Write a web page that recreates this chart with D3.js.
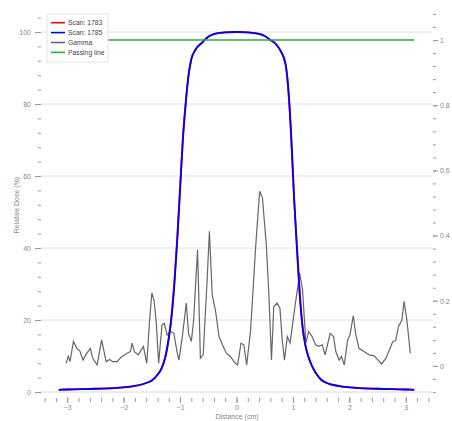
<!DOCTYPE html>
<html><head><meta charset="utf-8">
<script src="https://cdn.jsdelivr.net/npm/d3@7"></script>
<style>body{margin:0;background:#fff;font-family:"Liberation Sans",Arial,sans-serif}</style>
</head><body><svg id="c" width="452" height="421"></svg>
<script>
// Profile positions (cm) and relative dose (%)
const profileX = [-3.15,-3.0,-2.5,-2.0,-1.8,-1.6,-1.5,-1.4,-1.33,-1.26,-1.2,-1.15,-1.1,-1.05,-1.0,-0.95,-0.9,-0.85,-0.8,-0.73,-0.6,-0.5,-0.35,-0.2,0,0.2,0.35,0.5,0.6,0.7,0.78,0.87,0.93,0.98,1.02,1.07,1.12,1.17,1.22,1.27,1.33,1.4,1.5,1.6,1.8,2.0,2.5,3.0,3.15];
const scan1783 = [0.6,0.7,0.9,1.3,1.7,2.5,3.2,4.8,6.5,9.8,15,21.5,31,43,57,71,80.5,88,92.5,95,97.2,98.7,99.6,99.9,100,99.9,99.6,98.9,97.8,96.6,94.8,91,81,67,54,41,28,18.5,13,10,7.5,5.4,3.4,2.5,1.7,1.3,0.9,0.7,0.6];
const scan1785 = [0.6,0.7,0.9,1.3,1.7,2.5,3.2,4.8,6.5,9.8,15,21,30,42,56,70,80,88,92.5,95,97.2,98.7,99.6,99.9,100,99.9,99.6,98.9,97.8,96.6,94.8,91,82,68,54,40,27,18,13,10,7.5,5.4,3.4,2.5,1.7,1.3,0.9,0.7,0.6];
// Gamma index
const gammaX = [-3.02,-2.98,-2.95,-2.89,-2.83,-2.78,-2.72,-2.66,-2.59,-2.55,-2.47,-2.39,-2.31,-2.25,-2.19,-2.12,-2.03,-1.94,-1.88,-1.85,-1.81,-1.74,-1.65,-1.59,-1.54,-1.5,-1.46,-1.42,-1.38,-1.32,-1.28,-1.23,-1.17,-1.11,-1.05,-1.02,-0.96,-0.89,-0.85,-0.8,-0.76,-0.69,-0.64,-0.59,-0.52,-0.48,-0.43,-0.37,-0.31,-0.25,-0.18,-0.11,-0.02,0.02,0.08,0.13,0.18,0.25,0.34,0.41,0.46,0.53,0.57,0.62,0.66,0.72,0.77,0.81,0.85,0.9,0.95,1.02,1.12,1.17,1.23,1.28,1.34,1.4,1.46,1.52,1.57,1.66,1.72,1.76,1.82,1.86,1.91,1.97,2.01,2.07,2.11,2.17,2.26,2.35,2.44,2.51,2.57,2.65,2.71,2.77,2.82,2.87,2.93,2.97,3.02,3.08];
const gammaV = [0.008,0.03,0.013,0.075,0.054,0.047,0.018,0.037,0.054,0.024,0.003,0.08,0.013,0.02,0.013,0.013,0.029,0.039,0.044,0.07,0.044,0.034,0.06,0.008,0.14,0.224,0.2,0.13,0.008,0.126,0.131,0.095,0.106,0.1,0.039,0.018,0.09,0.193,0.1,0.075,0.14,0.357,0.024,0.034,0.265,0.413,0.218,0.167,0.09,0.065,0.039,0.029,0.008,0.003,0.07,0.065,0.003,0.11,0.367,0.536,0.516,0.367,0.234,0.018,0.182,0.193,0.177,0.08,0.018,0.09,0.07,0.162,0.285,0.234,0.07,0.106,0.09,0.065,0.06,0.065,0.034,0.1,0.09,0.044,0.018,0.029,0.003,0.08,0.095,0.154,0.1,0.054,0.044,0.034,0.031,0.018,0.006,0.024,0.049,0.075,0.077,0.121,0.14,0.198,0.14,0.039];
const passingX = [-3.15, 3.15];
const passingV = [1, 1];
const doseTicks = [0,20,40,60,80,100];
const gammaTicks = [0,0.2,0.4,0.6,0.8,1];
const distTicks = [-3,-2,-1,0,1,2,3];
const legendLabels = ["Scan: 1783","Scan: 1785","Gamma","Passing line"];
const legendColors = ["#ff0000","#0000ff","#666666","#33aa33"];

const svg = d3.select("#c");
const x = d3.scaleLinear().domain([-3.5,3.5]).range([39,434]);
const yL = d3.scaleLinear().domain([0,105]).range([392,14]);
const yR = d3.scaleLinear().domain([-0.08,1.08]).range([392,14]);
const tickCol = "#999", labCol = "#888", fs = 7;

// grid
svg.append("g").selectAll("line").data(doseTicks.filter(d=>d>0)).join("line")
  .attr("x1",41).attr("x2",432).attr("y1",d=>yL(d)).attr("y2",d=>yL(d))
  .attr("stroke","#e0e0e0").attr("stroke-width",1);
svg.append("line").attr("x1",41).attr("x2",432).attr("y1",yL(0)).attr("y2",yL(0))
  .attr("stroke","#d8d8d8");

// left axis
const gl = svg.append("g").attr("transform","translate(41,0)");
gl.call(d3.axisLeft(yL).tickValues(d3.range(0,105,4)).tickSize(3).tickFormat(""))
  .call(g=>g.select(".domain").remove()).call(g=>g.selectAll("line").attr("stroke",tickCol));
gl.append("g").call(d3.axisLeft(yL).tickValues(doseTicks).tickSize(6).tickPadding(4))
  .call(g=>g.select(".domain").remove())
  .call(g=>g.selectAll("line").attr("stroke",tickCol))
  .call(g=>g.selectAll("text").attr("fill",labCol).attr("font-size",fs).attr("font-family","Liberation Sans, Arial"));
svg.append("text").attr("transform","translate(19,205) rotate(-90)").attr("text-anchor","middle")
  .attr("font-size",fs).attr("fill",labCol).text("Relative Dose (%)");

// right axis
const gr = svg.append("g").attr("transform","translate(433,0)");
gr.call(d3.axisRight(yR).tickValues(d3.range(-0.08,1.09,0.04)).tickSize(3).tickFormat(""))
  .call(g=>g.select(".domain").remove()).call(g=>g.selectAll("line").attr("stroke",tickCol));
gr.append("g").call(d3.axisRight(yR).tickValues(gammaTicks).tickSize(5).tickPadding(2).tickFormat(d3.format("~g")))
  .call(g=>g.select(".domain").remove())
  .call(g=>g.selectAll("line").attr("stroke",tickCol))
  .call(g=>g.selectAll("text").attr("fill",labCol).attr("font-size",fs).attr("font-family","Liberation Sans, Arial"));

// bottom axis
const gb = svg.append("g").attr("transform","translate(0,398)");
gb.call(d3.axisBottom(x).tickValues(d3.range(-3.4,3.41,0.2)).tickSize(4).tickFormat(""))
  .call(g=>g.select(".domain").remove()).call(g=>g.selectAll("line").attr("stroke",tickCol));
gb.append("g").attr("transform","translate(0,-1)").call(d3.axisBottom(x).tickValues(distTicks).tickSize(6).tickPadding(2).tickFormat(d3.format("~g")))
  .call(g=>g.select(".domain").remove())
  .call(g=>g.selectAll("line").attr("stroke",tickCol))
  .call(g=>g.selectAll("text").attr("fill",labCol).attr("font-size",fs).attr("font-family","Liberation Sans, Arial"));
svg.append("text").attr("x",237).attr("y",419).attr("text-anchor","middle")
  .attr("font-size",fs).attr("fill",labCol).text("Distance (cm)");

// lines
const profLine = vals => d3.line().x((d,i)=>x(profileX[i])).y(d=>yL(d)).curve(d3.curveMonotoneX)(vals);
svg.append("path").attr("d",d3.line().x((d,i)=>x(gammaX[i])).y(d=>yR(d))(gammaV))
  .attr("fill","none").attr("stroke","#666").attr("stroke-width",1.2);
svg.append("path").attr("d",profLine(scan1783)).attr("fill","none").attr("stroke","#ff0000").attr("stroke-width",1.8);
svg.append("path").attr("d",profLine(scan1785)).attr("fill","none").attr("stroke","#0000ff").attr("stroke-width",1.8);
svg.append("path").attr("d",d3.line().x((d,i)=>x(passingX[i])).y(d=>yR(d))(passingV))
  .attr("fill","none").attr("stroke","#33aa33").attr("stroke-width",1.5);

// legend
const lg = svg.append("g").attr("transform","translate(47,14)");
lg.append("rect").attr("width",61).attr("height",48).attr("fill","#fff").attr("stroke","#e4e4e4");
const items = lg.selectAll("g").data(legendLabels).join("g").attr("transform",(d,i)=>`translate(0,${8.7+i*9.9})`);
items.append("line").attr("x1",4).attr("x2",18).attr("stroke",(d,i)=>legendColors[i]).attr("stroke-width",1.6);
items.append("text").attr("x",21).attr("y",2.4).attr("font-size",6.8).attr("fill","#444").text(d=>d);
</script></body></html>
